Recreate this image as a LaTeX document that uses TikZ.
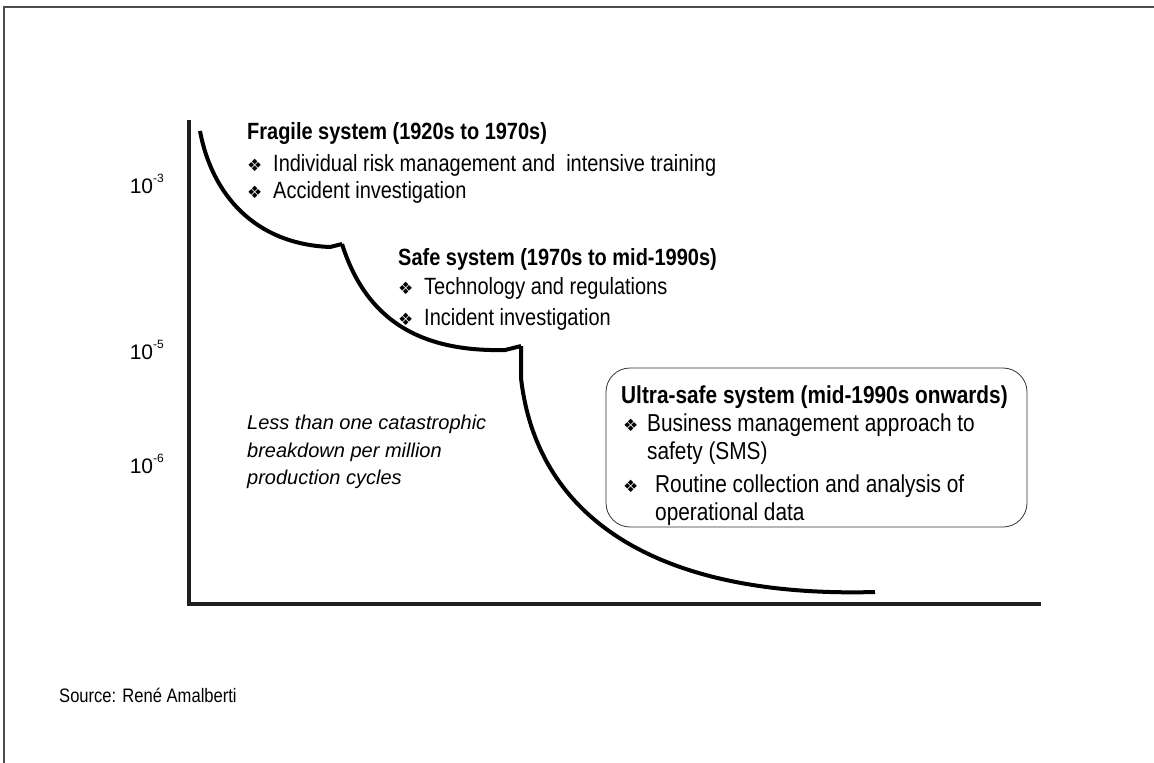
\documentclass[tikz,border=0pt]{standalone}
\usepackage{fontspec}
\setmainfont{Liberation Sans}[FakeStretch=0.85]
\newfontfamily\plainsans{Liberation Sans}
\newfontfamily\symfont{DejaVu Sans}
% bullet glyph set in a box of the given width
\newcommand\dia[1]{\makebox[#1][l]{\symfont\fontsize{17}{17}\selectfont ❖}}
\begin{document}
\begin{tikzpicture}[x=1pt,y=-1pt,
  txt/.style={inner sep=0pt, anchor=base west, font=\fontsize{23.5}{26}\selectfont},
  head/.style={txt, font=\fontsize{23.5}{26}\selectfont\bfseries},
  btxt/.style={inner sep=0pt, anchor=base west, font=\fontsize{24.5}{27}\selectfont},
  bhead/.style={btxt, font=\fontsize{24.5}{27}\selectfont\bfseries},
  note/.style={inner sep=0pt, anchor=base west, font=\plainsans\fontsize{20}{22}\selectfont\itshape},
  tick/.style={inner sep=0pt, anchor=base east, font=\plainsans\fontsize{21}{23}\selectfont},
  curve/.style={line width=4pt, line join=miter},
  axis/.style={line width=4pt, draw=black!88},
  box/.style={draw=black!80, line width=0.8pt, rounded corners=24pt},
]
\useasboundingbox (0,0) rectangle (1154,763);
% page frame
\draw[line width=1.2pt, black!70] (4,763) -- (4,7) -- (1154,7);

% axes
\coordinate (ytop) at (189,120);
\coordinate (xend) at (1041,604);
\draw[axis] (ytop) -- (189,606);
\draw[axis] (187,604) -- (xend);

% scale labels
\newcommand\expo[1]{\raisebox{0.5em}{\fontsize{12}{12}\selectfont #1}}
\node[tick] (e3) at (164,193) {10\expo{-3}};
\node[tick] (e5) at (164,359) {10\expo{-5}};
\node[tick] (e6) at (164,473) {10\expo{-6}};

% the three stepped curves
\coordinate (c1s) at (200,131);
\coordinate (c1e) at (342,244);
\coordinate (c2e) at (521,346);
\coordinate (c3e) at (875,592);
\draw[curve] (c1s) .. controls (212,195) and (255,244) .. (330,247) -- (c1e);
\draw[curve] (c1e) .. controls (366,320) and (420,352) .. (505,350) -- (c2e);
\draw[curve] (c2e) -- (521,378) .. controls (537,520) and (660,598) .. (c3e);

% fragile system
\node[head] (fh) at (247,139) {Fragile system (1920s to 1970s)};
\node[txt] (f1) at (247,171) {\dia{26pt}Individual risk management and \ intensive training};
\node[txt] (f2) at (247,198) {\dia{26pt}Accident investigation};

% safe system
\node[head] (sh) at (398,265) {Safe system (1970s to mid-1990s)};
\node[txt] (s1) at (398,294) {\dia{26pt}Technology and regulations};
\node[txt] (s2) at (398,325) {\dia{26pt}Incident investigation};

% ultra-safe system
\draw[box] (606,368) rectangle (1027,527);
\node[bhead] (uh) at (621,403) {Ultra-safe system (mid-1990s onwards)};
\node[btxt] (u1) at (623,431) {\dia{24pt}Business management approach to};
\node[btxt] (u1b) at (647,459) {safety (SMS)};
\node[btxt] (u2) at (623,492) {\dia{32pt}Routine collection and analysis of};
\node[btxt] (u2b) at (655,520) {operational data};

% note
\node[note] (n1) at (247,429) {Less than one catastrophic};
\node[note] (n2) at (247,457) {breakdown per million};
\node[note] (n3) at (247,484) {production cycles};

% source
\node[txt, font=\fontsize{19.5}{22}\selectfont] (src) at (59,702) {Source: René Amalberti};
\end{tikzpicture}
\end{document}
